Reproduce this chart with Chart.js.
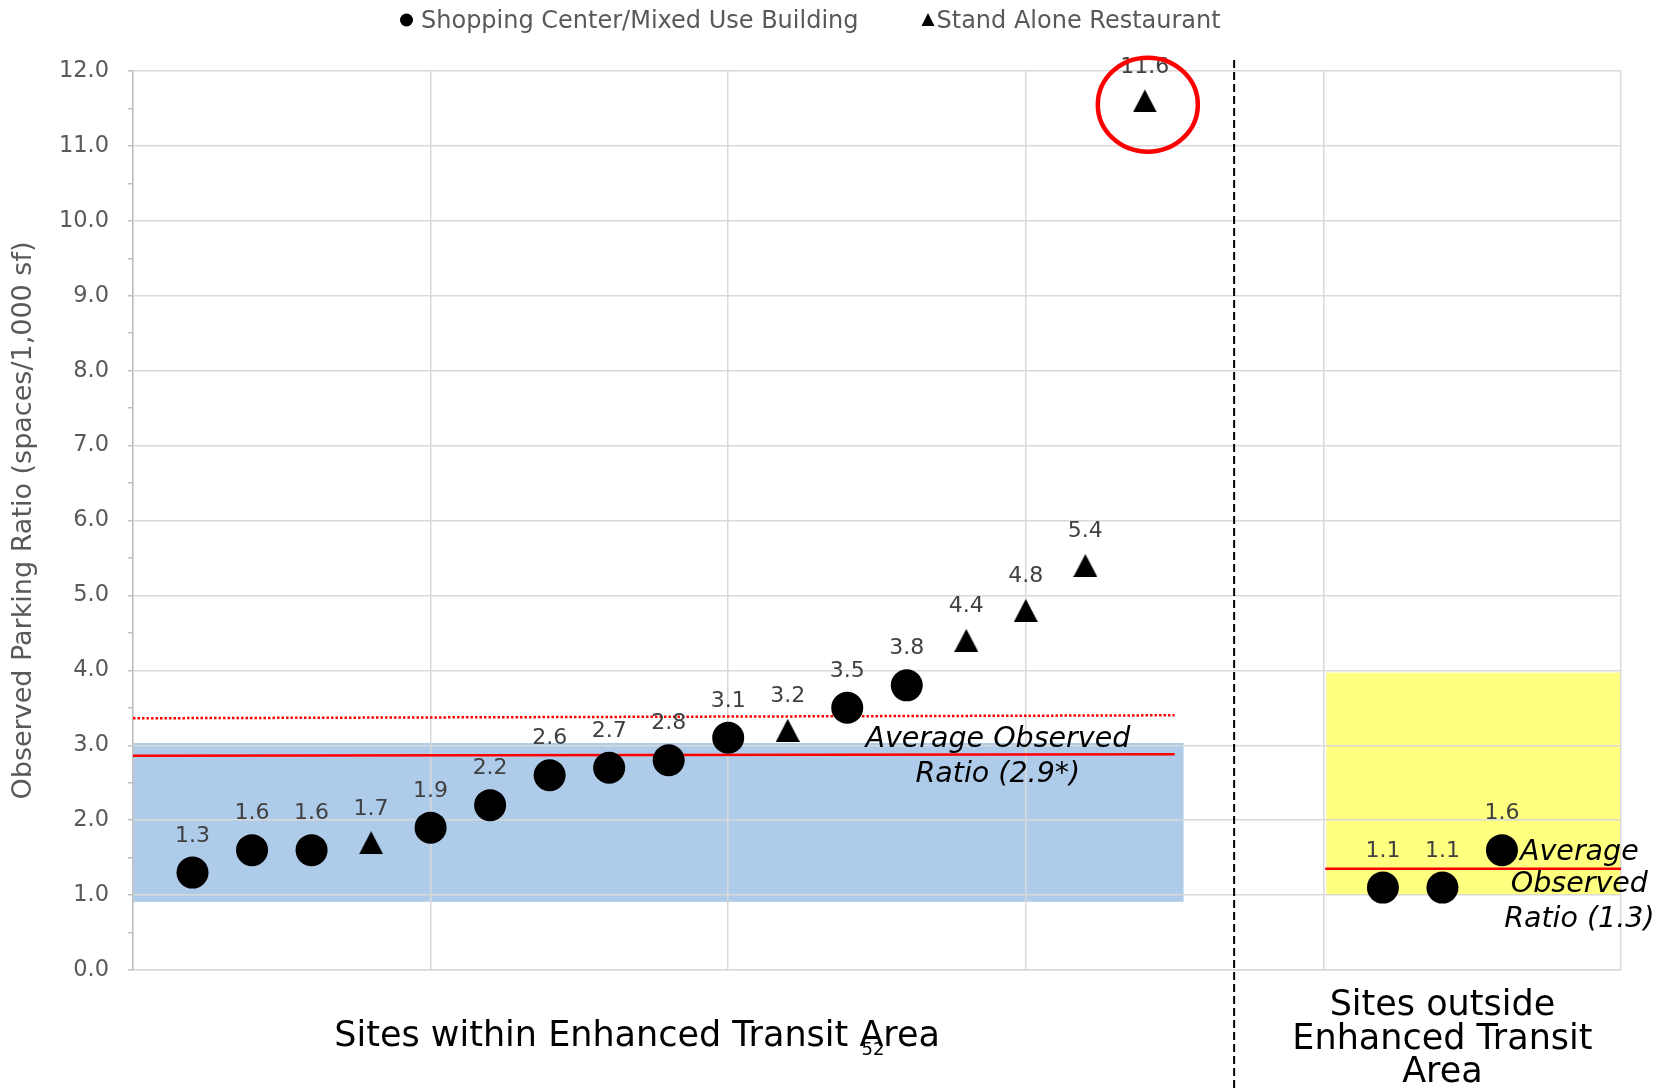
<!DOCTYPE html>
<html>
<head>
<meta charset="utf-8">
<title>Observed Parking Ratio</title>
<script src="https://cdn.jsdelivr.net/npm/chart.js@4.4.1/dist/chart.umd.min.js"></script>
<style>
  html, body { margin: 0; padding: 0; background: #fff; }
  canvas { display: block; }
</style>
</head>
<body>
<canvas id="grafico" width="1663" height="1088"></canvas>
<script>
// dados
const shopX = [1, 2, 3, 5, 6, 7, 8, 9, 10, 12, 13, 21, 22, 23];
const shopY = [1.3, 1.6, 1.6, 1.9, 2.2, 2.6, 2.7, 2.8, 3.1, 3.5, 3.8, 1.1, 1.1, 1.6];
const restX = [4, 11, 14, 15, 16, 17];
const restY = [1.7, 3.2, 4.4, 4.8, 5.4, 11.6];

const avgWithinX = [0, 17.5];
const avgWithinY = [2.86, 2.88];
const refWithinY = [3.36, 3.4];
const avgOutsideX = [20.03, 25];
const avgOutsideY = [1.35, 1.35];

const legendLabels = ["Shopping Center/Mixed Use Building", "Stand Alone Restaurant"];
const categoryLabels = [["Sites within Enhanced Transit Area"], ["Sites outside", "Enhanced Transit", "Area"]];
const categoryX = [8.47, 22];
const yTitle = "Observed Parking Ratio (spaces/1,000 sf)";

// faixas e anotacoes (em unidades do grafico)
const bandWithin = [0, 17.65, 0.91, 3.03];
const bandOutside = [20.05, 25, 1.0, 3.97];
const dividerX = 18.5;
const noteWithin = ["Average Observed", "Ratio (2.9*)"];
const noteOutside = ["Average", "Observed", "Ratio (1.3)"];

const FONT = "'DejaVu Sans', Verdana, sans-serif";

const toPts = (xs, ys) => xs.map((x, i) => ({ x: x, y: ys[i] }));

// triangulo no estilo do Excel (centro pela caixa)
function makeTriangle(w, h) {
  const c = document.createElement("canvas");
  c.width = w;
  c.height = h;
  const g = c.getContext("2d");
  g.fillStyle = "#000";
  g.beginPath();
  g.moveTo(w / 2, 0);
  g.lineTo(w, h);
  g.lineTo(0, h);
  g.closePath();
  g.fill();
  return c;
}
const triangle = makeTriangle(24, 23);

function drawText(ctx, str, x, y, font, color, align) {
  ctx.font = font;
  ctx.fillStyle = color;
  ctx.textAlign = align || "center";
  ctx.textBaseline = "alphabetic";
  ctx.fillText(str, x, y);
}

const decorPlugin = {
  id: "decor",
  beforeDraw(chart) {
    const { ctx, scales: { x, y } } = chart;
    ctx.save();
    const band = (b, color) => {
      const x0 = x.getPixelForValue(b[0]);
      const x1 = x.getPixelForValue(b[1]);
      const y0 = y.getPixelForValue(b[3]);
      const y1 = y.getPixelForValue(b[2]);
      ctx.fillStyle = color;
      ctx.fillRect(x0, y0, x1 - x0, y1 - y0);
    };
    band(bandWithin, "#aecbea");
    band(bandOutside, "#ffff80");
    ctx.restore();
  },
  afterDatasetsDraw(chart) {
    const { ctx } = chart;
    ctx.save();
    [0, 1].forEach((di) => {
      const meta = chart.getDatasetMeta(di);
      const ds = chart.data.datasets[di];
      const off = di === 0 ? 31 : 28;
      meta.data.forEach((el, i) => {
        drawText(ctx, ds.data[i].y.toFixed(1), el.x, el.y - off, "22px " + FONT, "#404040");
      });
    });
    ctx.restore();
  },
  afterDraw(chart) {
    const { ctx, scales: { x, y } } = chart;
    ctx.save();

    // linha divisoria tracejada
    const dx = x.getPixelForValue(dividerX);
    ctx.strokeStyle = "#000";
    ctx.lineWidth = 2;
    ctx.setLineDash([8, 4]);
    ctx.beginPath();
    ctx.moveTo(dx, 60);
    ctx.lineTo(dx, chart.height);
    ctx.stroke();
    ctx.setLineDash([]);

    // circulo vermelho no outlier
    ctx.strokeStyle = "#ff0000";
    ctx.lineWidth = 4.5;
    ctx.beginPath();
    ctx.ellipse(x.getPixelForValue(17.05), y.getPixelForValue(11.55), 50, 47, 0, 0, Math.PI * 2);
    ctx.stroke();

    // anotacoes das medias
    const it = "italic 28.5px " + FONT;
    drawText(ctx, noteWithin[0], x.getPixelForValue(14.53), y.getPixelForValue(2.98), it, "#000");
    drawText(ctx, noteWithin[1], x.getPixelForValue(14.53), y.getPixelForValue(2.51), it, "#000");
    const nb = [1.47, 1.04, 0.57];
    noteOutside.forEach((t, i) => {
      drawText(ctx, t, x.getPixelForValue(24.3), y.getPixelForValue(nb[i]), it, "#000");
    });

    // rotulos das categorias
    const cf = "35px " + FONT;
    drawText(ctx, categoryLabels[0][0], x.getPixelForValue(categoryX[0]), 1046, cf, "#000");
    categoryLabels[1].forEach((t, i) => {
      drawText(ctx, t, x.getPixelForValue(categoryX[1]), 1015 + i * 33.5, cf, "#000");
    });
    drawText(ctx, "52", 873, 1055, "18px " + FONT, "#000");

    // legenda
    const lf = "24px " + FONT;
    ctx.font = lf;
    let lx = 400;
    ctx.fillStyle = "#000";
    ctx.beginPath();
    ctx.arc(lx + 6.5, 20, 6.5, 0, Math.PI * 2);
    ctx.fill();
    drawText(ctx, legendLabels[0], lx + 21, 28, lf, "#595959", "left");
    ctx.font = lf;
    lx = lx + 21 + ctx.measureText(legendLabels[0]).width + 63;
    ctx.fillStyle = "#000";
    ctx.beginPath();
    ctx.moveTo(lx + 6.5, 13);
    ctx.lineTo(lx + 13, 26);
    ctx.lineTo(lx, 26);
    ctx.closePath();
    ctx.fill();
    drawText(ctx, legendLabels[1], lx + 15, 28, lf, "#595959", "left");

    ctx.restore();
  },
};

const ctxGrafico = document.getElementById("grafico").getContext("2d");

const grafico = new Chart(ctxGrafico, {
  type: "scatter",
  data: {
    datasets: [
      {
        label: legendLabels[0],
        data: toPts(shopX, shopY),
        pointStyle: "circle",
        pointRadius: 16,
        pointBackgroundColor: "#000",
        pointBorderWidth: 0,
        order: 0,
      },
      {
        label: legendLabels[1],
        data: toPts(restX, restY),
        pointStyle: triangle,
        pointRadius: 12,
        order: 0,
      },
      {
        label: "avg within",
        data: toPts(avgWithinX, avgWithinY),
        showLine: true,
        borderColor: "#ff0000",
        borderWidth: 2.5,
        pointRadius: 0,
        order: 1,
      },
      {
        label: "ref within",
        data: toPts(avgWithinX, refWithinY),
        showLine: true,
        borderColor: "#ff0000",
        borderWidth: 2.5,
        borderDash: [2.5, 2],
        pointRadius: 0,
        order: 1,
      },
      {
        label: "avg outside",
        data: toPts(avgOutsideX, avgOutsideY),
        showLine: true,
        borderColor: "#ff0000",
        borderWidth: 2.5,
        pointRadius: 0,
        order: 1,
      },
    ],
  },
  options: {
    responsive: false,
    animation: false,
    layout: {
      padding: { top: 71, right: 42, bottom: 0, left: 0 },
    },
    plugins: {
      legend: { display: false },
      tooltip: { enabled: false },
    },
    scales: {
      x: {
        type: "linear",
        min: 0,
        max: 25,
        ticks: { display: false, stepSize: 5 },
        grid: { color: "#d9d9d9", lineWidth: 1.5, drawTicks: false },
        border: { color: "#d9d9d9", width: 1.5 },
        afterFit: (scale) => {
          scale.height = 118;
        },
      },
      y: {
        min: 0,
        max: 12,
        ticks: {
          stepSize: 0.5,
          padding: 19,
          color: "#595959",
          font: { family: FONT, size: 22.5 },
          callback: (v) => (v % 1 === 0 ? v.toFixed(1) : ""),
        },
        grid: {
          color: (c) => (c.tick && c.tick.value % 1 === 0 ? "#d9d9d9" : "rgba(0,0,0,0)"),
          tickColor: "#bfbfbf",
          tickLength: 5,
          lineWidth: 1.5,
        },
        border: { color: "#bfbfbf", width: 1.5 },
        title: {
          display: true,
          text: yTitle,
          color: "#595959",
          font: { family: FONT, size: 27 },
          padding: { top: 8, bottom: 0 },
        },
        afterFit: (scale) => {
          scale.width = 133;
        },
      },
    },
  },
  plugins: [decorPlugin],
});
</script>
</body>
</html>
